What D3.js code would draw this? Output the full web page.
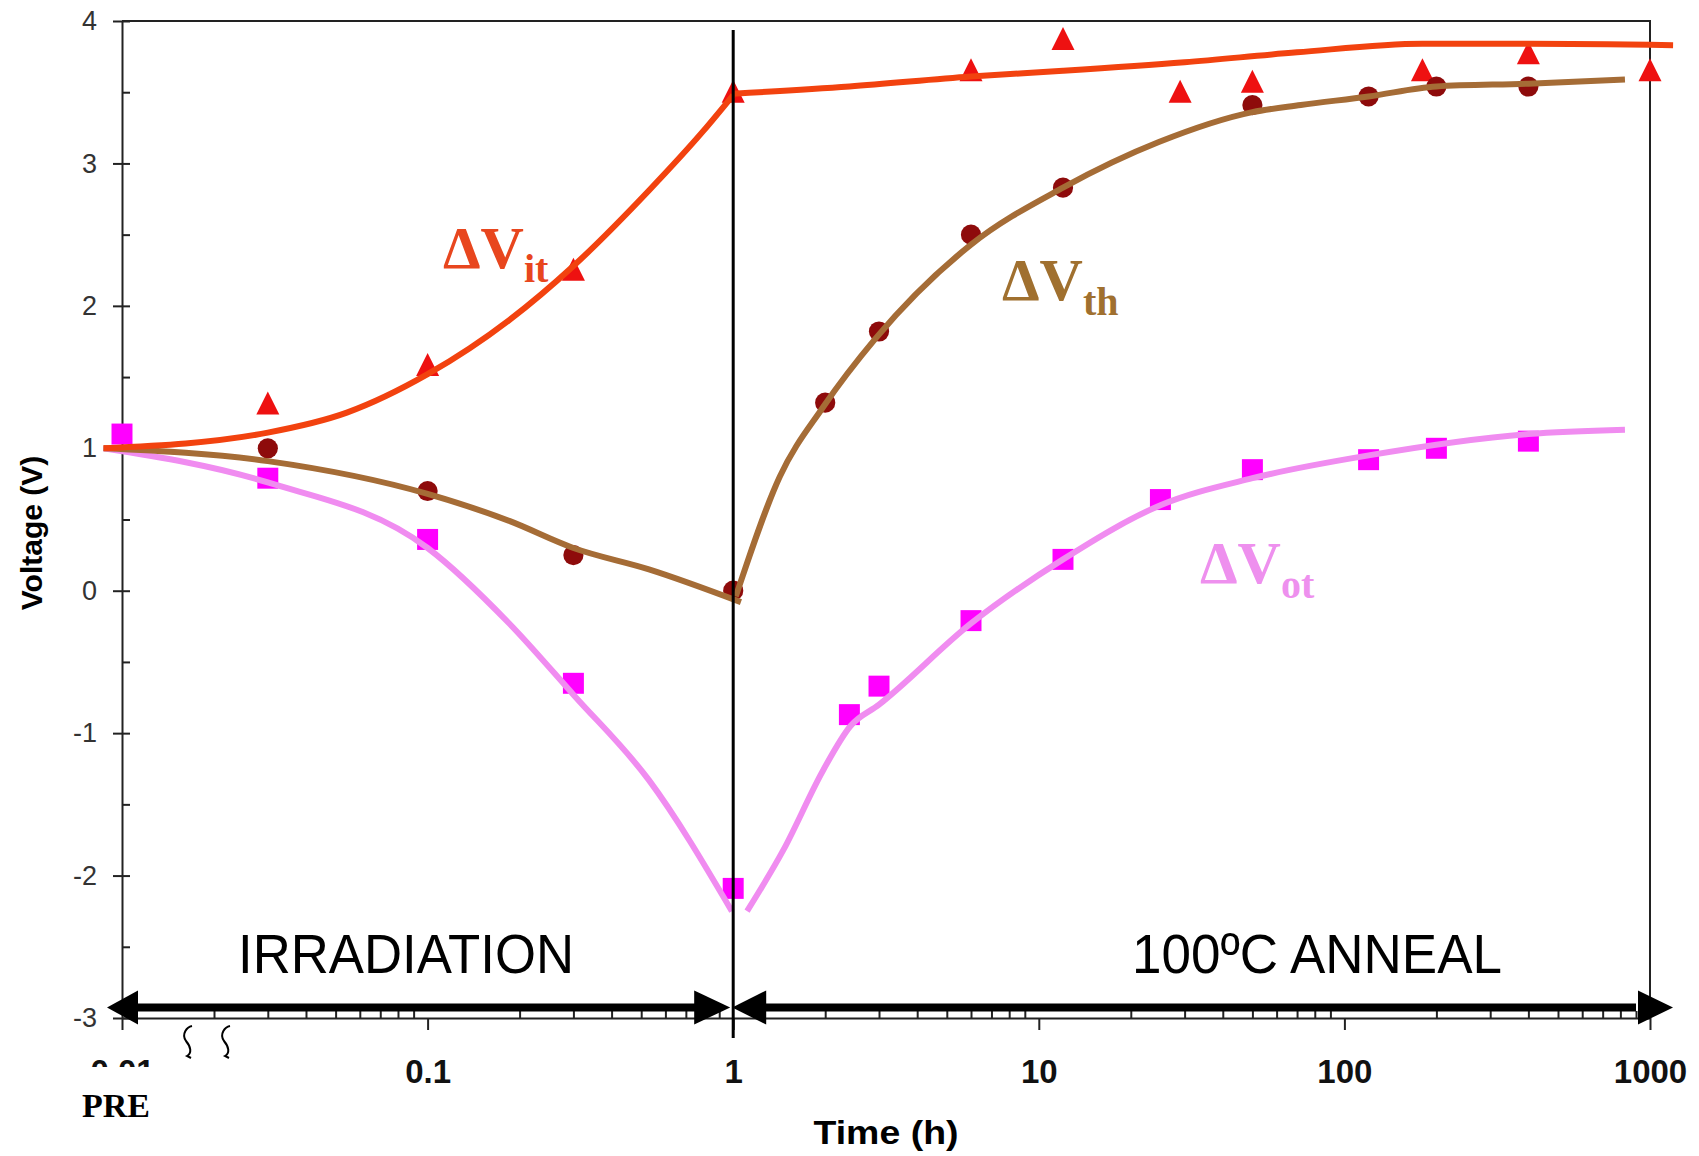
<!DOCTYPE html>
<html>
<head>
<meta charset="utf-8">
<script src="https://cdn.jsdelivr.net/npm/d3@7"></script>
<style>
  body { margin: 0; background: #fff; }
  svg { display: block; }
</style>
</head>
<body>
<svg width="1699" height="1156"></svg>
<script>
const timeTicks = [0.01, 0.1, 1, 10, 100, 1000];
const timeLabels = ["0.01", "0.1", "1", "10", "100", "1000"];
const voltTicks = [-3, -2, -1, 0, 1, 2, 3, 4];
const voltLabels = ["-3", "-2", "-1", "0", "1", "2", "3", "4"];

// measured points (time in h, voltage in V)
const itTime = [0.03, 0.1, 0.3, 1, 6, 12, 29, 50, 180, 400, 1000];
const itVolt = [1.30, 1.57, 2.24, 3.49, 3.64, 3.86, 3.49, 3.56, 3.64, 3.76, 3.64];

const thTime = [0.03, 0.1, 0.3, 1, 2, 3, 6, 12, 50, 120, 200, 400];
const thVolt = [1.00, 0.70, 0.25, 0.0, 1.32, 1.82, 2.50, 2.83, 3.41, 3.47, 3.54, 3.54];

const otTime = [0.01, 0.03, 0.1, 0.3, 1, 2.4, 3, 6, 12, 25, 50, 120, 200, 400];
const otVolt = [1.10, 0.79, 0.36, -0.65, -2.09, -0.87, -0.67, -0.21, 0.22, 0.64, 0.85, 0.92, 1.00, 1.05];

// fitted curves, irradiation part and anneal part
const itFitIrrTime = [0.0087, 0.03, 0.0544, 0.1, 0.185, 0.3, 0.53, 0.8, 1.0];
const itFitIrrVolt = [1.0, 1.11, 1.25, 1.52, 1.90, 2.28, 2.81, 3.23, 3.48];
const itFitAnnTime = [1.0, 2.4, 6, 12, 30, 70, 180, 400, 1190];
const itFitAnnVolt = [3.49, 3.54, 3.61, 3.65, 3.71, 3.78, 3.84, 3.84, 3.83];

const thFitIrrTime = [0.0087, 0.03, 0.1, 0.185, 0.3, 0.53, 1.06];
const thFitIrrVolt = [1.0, 0.91, 0.68, 0.49, 0.30, 0.15, -0.08];
const thFitAnnTime = [1.02, 1.42, 1.97, 2.92, 6, 12, 24.7, 50, 72, 120, 200, 400, 828];
const thFitAnnVolt = [-0.04, 0.80, 1.29, 1.77, 2.43, 2.83, 3.15, 3.36, 3.41, 3.47, 3.54, 3.56, 3.59];

const otFitIrrTime = [0.0087, 0.03, 0.1, 0.185, 0.3, 0.53, 0.99];
const otFitIrrVolt = [1.0, 0.76, 0.30, -0.23, -0.73, -1.33, -2.25];
const otFitAnnTime = [1.11, 1.46, 1.97, 2.42, 3, 6, 12, 25, 50, 120, 400, 828];
const otFitAnnVolt = [-2.25, -1.82, -1.26, -0.95, -0.80, -0.23, 0.22, 0.60, 0.79, 0.95, 1.10, 1.13];

const zip = (ts, vs) => ts.map((t, i) => ({ t: t, v: vs[i] }));

const main = function() {
  const svg = d3.select("svg");
  svg.append("rect").attr("width", 1699).attr("height", 1156).attr("fill", "#fff");

  const x = d3.scaleLog().domain([0.01, 1000]).range([122, 1650]);
  const y = d3.scaleLinear().domain([-3, 4]).range([1018, 21]);
  const axisColor = "#222";

  // frame (top + right)
  svg.append("path")
    .attr("d", `M${x(0.01)},${y(4)}H${x(1000)}V${y(-3)}`)
    .attr("fill", "none").attr("stroke", axisColor).attr("stroke-width", 2);

  // y axis
  const yAxis = svg.append("g")
    .attr("transform", `translate(${x(0.01)},0)`)
    .call(d3.axisLeft(y).tickValues(voltTicks).tickSizeInner(9).tickSizeOuter(0).tickPadding(16)
      .tickFormat((d, i) => voltLabels[i]));
  yAxis.select(".domain").attr("stroke", axisColor).attr("stroke-width", 2);
  yAxis.selectAll(".tick line").attr("stroke", axisColor).attr("stroke-width", 2);
  yAxis.selectAll(".tick text")
    .attr("font-family", "Liberation Sans, Arial, sans-serif")
    .attr("font-size", 27).attr("fill", "#333");

  const yMinor = svg.append("g")
    .attr("transform", `translate(${x(0.01)},0)`)
    .call(d3.axisLeft(y).tickValues(d3.range(-3, 4.01, 0.5)).tickSizeInner(-8).tickSizeOuter(0).tickFormat(""));
  yMinor.select(".domain").remove();
  yMinor.selectAll(".tick line").attr("stroke", axisColor).attr("stroke-width", 2);

  // x axis
  const minorTicks = [];
  [0.01, 0.1, 1, 10, 100].forEach(d => {
    for (let k = 2; k <= 9; k++) minorTicks.push(d * k);
  });
  const xMinor = svg.append("g")
    .attr("transform", `translate(0,${y(-3)})`)
    .call(d3.axisBottom(x).tickValues(minorTicks).tickSizeInner(-7).tickSizeOuter(0).tickFormat(""));
  xMinor.select(".domain").remove();
  xMinor.selectAll(".tick line").attr("stroke", axisColor).attr("stroke-width", 2);

  const xAxis = svg.append("g")
    .attr("transform", `translate(0,${y(-3)})`)
    .call(d3.axisBottom(x).tickValues(timeTicks).tickSizeInner(12).tickSizeOuter(0).tickPadding(30)
      .tickFormat((d, i) => timeLabels[i]));
  xAxis.select(".domain").attr("stroke", axisColor).attr("stroke-width", 2);
  xAxis.selectAll(".tick line").attr("stroke", axisColor).attr("stroke-width", 2);
  xAxis.selectAll(".tick text")
    .attr("font-family", "Liberation Sans, Arial, sans-serif")
    .attr("font-weight", "bold").attr("font-size", 33).attr("fill", "#111");

  // the 0.01 label is mostly hidden in the original
  svg.append("defs").append("clipPath").attr("id", "cut")
    .append("rect").attr("x", -100).attr("y", -100).attr("width", 200).attr("height", 149);
  xAxis.selectAll(".tick").filter(d => d === 0.01).select("text").attr("clip-path", "url(#cut)");

  // axis break squiggles
  [188, 226].forEach(sx => {
    svg.append("path")
      .attr("d", `M${sx + 4},1026 C${sx - 1},1027 ${sx - 7},1034 ${sx - 2},1041 C${sx + 3},1047 ${sx + 4},1053 ${sx - 1},1056 L${sx + 3},1058`)
      .attr("fill", "none").attr("stroke", "#000").attr("stroke-width", 2);
  });

  svg.append("text").attr("x", 82).attr("y", 1117)
    .attr("font-family", "Liberation Serif, Times New Roman, serif")
    .attr("font-weight", "bold").attr("font-size", 34).text("PRE");

  svg.append("text").attr("x", 886).attr("y", 1144).attr("text-anchor", "middle")
    .attr("font-family", "Liberation Sans, Arial, sans-serif")
    .attr("font-weight", "bold").attr("font-size", 33)
    .attr("textLength", 145).attr("lengthAdjust", "spacingAndGlyphs").text("Time (h)");

  svg.append("text").attr("transform", "translate(42,533) rotate(-90)").attr("text-anchor", "middle")
    .attr("font-family", "Liberation Sans, Arial, sans-serif")
    .attr("font-weight", "bold").attr("font-size", 30).text("Voltage (V)");

  // measured markers
  const tri = "M0,-14L11.5,9L-11.5,9Z";
  svg.append("g").selectAll("path").data(zip(itTime, itVolt)).enter().append("path")
    .attr("d", tri).attr("transform", d => `translate(${x(d.t)},${y(d.v)})`).attr("fill", "#ee1111");
  svg.append("g").selectAll("path").data(zip(thTime, thVolt)).enter().append("path")
    .attr("d", d3.symbol().type(d3.symbolCircle).size(320))
    .attr("transform", d => `translate(${x(d.t)},${y(d.v)})`).attr("fill", "#8e0b0b");
  svg.append("g").selectAll("path").data(zip(otTime, otVolt)).enter().append("path")
    .attr("d", d3.symbol().type(d3.symbolSquare).size(440))
    .attr("transform", d => `translate(${x(d.t)},${y(d.v)})`).attr("fill", "#ff00ff");

  // fitted curves
  const line = d3.line().x(d => x(d.t)).y(d => y(d.v)).curve(d3.curveMonotoneX);
  const fits = [
    { pts: zip(otFitIrrTime, otFitIrrVolt), color: "#f08cf0" },
    { pts: zip(otFitAnnTime, otFitAnnVolt), color: "#f08cf0" },
    { pts: zip(thFitIrrTime, thFitIrrVolt), color: "#a56c36" },
    { pts: zip(thFitAnnTime, thFitAnnVolt), color: "#a56c36" },
    { pts: zip(itFitIrrTime, itFitIrrVolt), color: "#f2420f" },
    { pts: zip(itFitAnnTime, itFitAnnVolt), color: "#f2420f" }
  ];
  svg.append("g").selectAll("path").data(fits).enter().append("path")
    .attr("d", d => line(d.pts)).attr("fill", "none")
    .attr("stroke", d => d.color).attr("stroke-width", 6).attr("stroke-linejoin", "round");

  // divider at t = 1
  svg.append("line").attr("x1", x(1)).attr("x2", x(1)).attr("y1", 30).attr("y2", 1038)
    .attr("stroke", "#000").attr("stroke-width", 3);

  // double arrows
  const ay = 1007.5;
  const arrows = svg.append("g").attr("fill", "#000");
  arrows.append("rect").attr("x", x(0.01) + 14).attr("y", ay - 4)
    .attr("width", x(1) - 38 - x(0.01) - 14).attr("height", 8);
  arrows.append("rect").attr("x", x(1) + 32).attr("y", ay - 4)
    .attr("width", x(1000) - 14 - x(1) - 32).attr("height", 8);
  const head = (tip, dir, len) =>
    `M${tip},${ay}L${tip - dir * len},${ay - 17}L${tip - dir * len},${ay + 17}Z`;
  arrows.append("path").attr("d", head(x(0.01) - 15, -1, 31));
  arrows.append("path").attr("d", head(x(1) - 3, 1, 36));
  arrows.append("path").attr("d", head(x(1) - 1, -1, 34));
  arrows.append("path").attr("d", head(x(1000) + 23, 1, 35));

  // region labels
  svg.append("text").attr("x", 238).attr("y", 973)
    .attr("font-family", "Liberation Sans, Arial, sans-serif").attr("font-size", 56)
    .attr("textLength", 336).attr("lengthAdjust", "spacingAndGlyphs").text("IRRADIATION");
  svg.append("text").attr("x", 1132).attr("y", 973)
    .attr("font-family", "Liberation Sans, Arial, sans-serif").attr("font-size", 56)
    .attr("textLength", 370).attr("lengthAdjust", "spacingAndGlyphs").text("100ºC ANNEAL");

  // curve labels
  const labels = [
    { x: 443, y: 268, sub: "it", color: "#e8461e", dy: 14 },
    { x: 1002, y: 300, sub: "th", color: "#a0702f", dy: 15 },
    { x: 1200, y: 583, sub: "ot", color: "#ee90ee", dy: 15 }
  ];
  labels.forEach(l => {
    const t = svg.append("text").attr("x", l.x).attr("y", l.y)
      .attr("font-family", "Liberation Serif, Times New Roman, serif")
      .attr("font-weight", "bold").attr("fill", l.color);
    t.append("tspan").attr("font-size", 60).text("ΔV");
    t.append("tspan").attr("font-size", 40).attr("dy", l.dy).text(l.sub);
  });
};

window.onload = main;
</script>
</body>
</html>
